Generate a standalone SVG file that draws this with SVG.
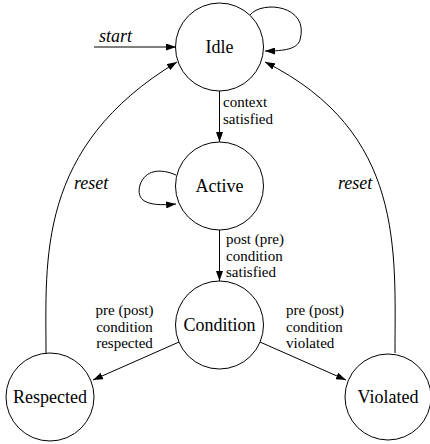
<svg xmlns="http://www.w3.org/2000/svg" width="430" height="444" viewBox="0 0 430 444">
<style>
.node circle{fill:#fff;stroke:#000;stroke-width:1}
text{font-family:"Liberation Serif","Times New Roman",serif;fill:#000}
.nl{font-size:18px;text-anchor:middle}
.el{font-size:15px}
.it{font-size:18px;font-style:italic}
.edges path{fill:none;stroke:#000;stroke-width:1;marker-end:url(#arr)}
</style>
<defs>
<marker id="arr" viewBox="0 0 10 7" refX="10" refY="3.5" markerWidth="10" markerHeight="7" markerUnits="userSpaceOnUse" orient="auto">
<path d="M0,0 L10,3.5 L0,7 Z" fill="#000"/>
</marker>
</defs>
<g class="edges">
<path d="M94,47 L176,47"/>
<path d="M250,15 C262,0 310,5 300,40 C297,49 285,51 265,51"/>
<path d="M219.5,91 L219.5,142"/>
<path d="M176,175 C160,168 145,170 140,185 C136,200 145,207 176,204"/>
<path d="M219.5,230 L219.5,281"/>
<path d="M179,342 L93,380"/>
<path d="M260,342 L346,380"/>
<path d="M46,353 C46,259 36,147 177,62"/>
<path d="M395,353 C395,250 405,132 265,62"/>
</g>
<g class="labels">
<text class="it" x="99" y="42">start</text>
<text class="el" x="223" y="107">context</text>
<text class="el" x="223" y="124">satisfied</text>
<text class="el" x="226" y="244">post (pre)</text>
<text class="el" x="226" y="260.5">condition</text>
<text class="el" x="226" y="277">satisfied</text>
<text class="el" x="124.5" y="315" text-anchor="middle">pre (post)</text>
<text class="el" x="124.5" y="331.5" text-anchor="middle">condition</text>
<text class="el" x="124.5" y="348" text-anchor="middle">respected</text>
<text class="el" x="286" y="315">pre (post)</text>
<text class="el" x="286" y="331.5">condition</text>
<text class="el" x="286" y="348">violated</text>
<text class="it" x="74" y="189">reset</text>
<text class="it" x="338" y="189">reset</text>
</g>
<g id="idle" class="node"><circle cx="219.5" cy="47" r="44"/><text class="nl" x="219.5" y="53">Idle</text></g>
<g id="active" class="node"><circle cx="219.5" cy="186" r="44"/><text class="nl" x="219.5" y="192">Active</text></g>
<g id="condition" class="node"><circle cx="219.5" cy="325" r="44"/><text class="nl" x="219.5" y="331">Condition</text></g>
<g id="respected" class="node"><circle cx="50" cy="397" r="44"/><text class="nl" x="50" y="403">Respected</text></g>
<g id="violated" class="node"><circle cx="388" cy="397" r="43"/><text class="nl" x="388" y="403">Violated</text></g>
</svg>
